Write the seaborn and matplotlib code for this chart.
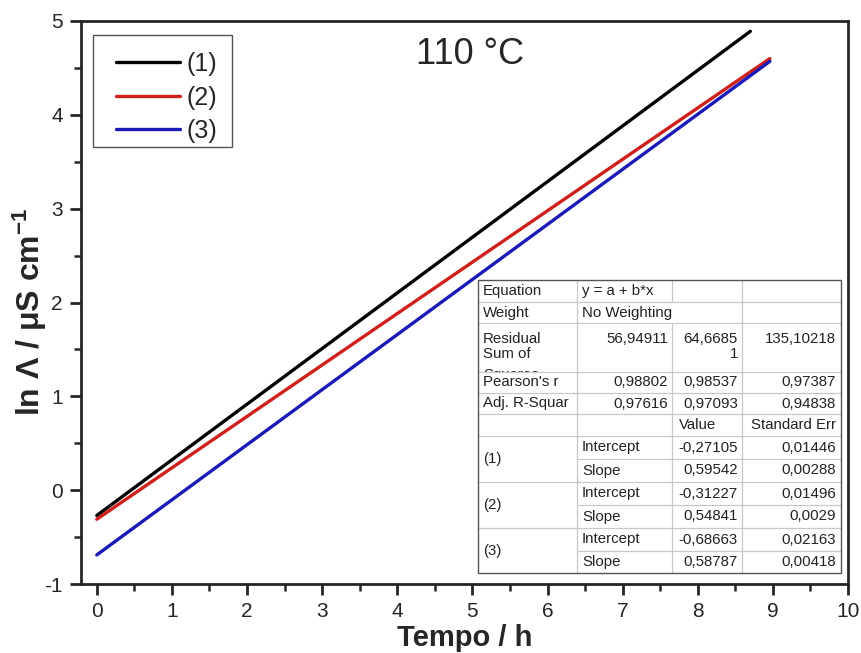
import matplotlib
matplotlib.use("Agg")
import matplotlib.pyplot as plt
import seaborn as sns
import pandas as pd
from matplotlib.ticker import MultipleLocator
from matplotlib.patches import Rectangle

# ---------------- data ----------------
series_names = ["(1)", "(2)", "(3)"]
time_1 = [0.0, 8.70]
ln_1 = [-0.27, 4.89]
time_2 = [0.0, 8.96]
ln_2 = [-0.31, 4.60]
time_3 = [0.0, 8.96]
ln_3 = [-0.69, 4.57]
series_colors = ["#000000", "#d0201c", "#1a1ab8"]

x_ticks = [0, 1, 2, 3, 4, 5, 6, 7, 8, 9, 10]
y_ticks = [-1, 0, 1, 2, 3, 4, 5]

title_text = "110 °C"
x_label = "Tempo / h"
y_label = "ln Λ / μS cm$^{-1}$"

# fit-report table contents
tbl_equation = ["Equation", "y = a + b*x"]
tbl_weight = ["Weight", "No Weighting"]
tbl_rss_label = ["Residual\nSum of", "Squares"]
tbl_rss = ["56,94911", "64,6685\n1", "135,10218"]
tbl_pearson = ["Pearson's r", "0,98802", "0,98537", "0,97387"]
tbl_adjr2 = ["Adj. R-Squar", "0,97616", "0,97093", "0,94838"]
tbl_head = ["Value", "Standard Err"]
tbl_params = ["Intercept", "Slope"]
tbl_values = [["-0,27105", "0,59542"], ["-0,31227", "0,54841"], ["-0,68663", "0,58787"]]
tbl_errors = [["0,01446", "0,00288"], ["0,01496", "0,0029"], ["0,02163", "0,00418"]]

# ---------------- style ----------------
sns.set_style("ticks")
plt.rcParams["font.family"] = ["Liberation Sans", "DejaVu Sans"]
plt.rcParams["mathtext.fontset"] = "custom"
plt.rcParams["mathtext.rm"] = "Liberation Sans"
plt.rcParams["mathtext.bf"] = "Liberation Sans:bold"
plt.rcParams["mathtext.default"] = "bf"
plt.rcParams["axes.unicode_minus"] = False

W, H = 862, 653
fig = plt.figure(figsize=(W / 100, H / 100), dpi=100)
fig.patch.set_facecolor("white")

L, R, T, B = 81, 848, 21, 584
ax = fig.add_axes([L / W, (H - B) / H, (R - L) / W, (B - T) / H])

df = pd.concat([
    pd.DataFrame({"t": time_1, "ln": ln_1, "s": series_names[0]}),
    pd.DataFrame({"t": time_2, "ln": ln_2, "s": series_names[1]}),
    pd.DataFrame({"t": time_3, "ln": ln_3, "s": series_names[2]}),
], ignore_index=True)

sns.lineplot(data=df, x="t", y="ln", hue="s", palette=series_colors,
             hue_order=series_names, linewidth=2.4, sort=False, ax=ax)

ax.set_xlim(-0.21, 10.0)
ax.set_ylim(-1, 5)
ax.set_xticks(x_ticks)
ax.set_yticks(y_ticks)
ax.xaxis.set_minor_locator(MultipleLocator(0.5))
ax.yaxis.set_minor_locator(MultipleLocator(0.5))
ax.tick_params(which="major", direction="out", length=8, width=2,
               labelsize=15, pad=5)
ax.tick_params(which="minor", direction="out", length=5, width=1.8)
for sp in ax.spines.values():
    sp.set_linewidth(2)
    sp.set_visible(True)

ax.set_xlabel(x_label, fontsize=21, fontweight="bold", labelpad=2)
ax.set_ylabel(y_label, fontsize=23, fontweight="bold")
ax.yaxis.set_label_coords((49 - L) / (R - L), (B - 312) / (B - T))

ax.text((470 - L) / (R - L), (B - 55) / (B - T), title_text,
        transform=ax.transAxes, ha="center", va="center", fontsize=26)

# overlay axes in pixel units (legend frame + fit table)
tax = fig.add_axes([0, 0, 1, 1], zorder=5)
tax.set_xlim(0, W)
tax.set_ylim(H, 0)
tax.axis("off")
tax.patch.set_alpha(0)

handles, labels = ax.get_legend_handles_labels()
leg = ax.legend(handles, labels, loc="upper left",
                bbox_to_anchor=((116 - L) / (R - L), (B - 52) / (B - T)),
                borderaxespad=0, fontsize=18, handlelength=2.56,
                handletextpad=0.28, labelspacing=0.38, borderpad=0.0,
                frameon=False)
for ln in leg.get_lines():
    ln.set_linewidth(2.4)
ax.add_patch(Rectangle((93, 35), 232 - 93, 147 - 35, transform=tax.transData,
                       facecolor="none", edgecolor="#555555", lw=1.0,
                       zorder=6, clip_on=False))

# ---------------- fit table ----------------
c = [478, 577, 672, 742, 841]
r = [280, 302, 323, 372, 393, 414, 436, 459, 482, 505, 528, 551, 573]
grid_c = "#c8c8c8"
fs = 10.8
tc = "#222222"

tax.add_patch(Rectangle((c[0], r[0]), c[4] - c[0], r[-1] - r[0],
                        facecolor="white", edgecolor="none", zorder=1))

def hline(y, x0, x1):
    tax.plot([x0, x1], [y, y], color=grid_c, lw=0.9, zorder=5)

def vline(x, y0, y1):
    tax.plot([x, x], [y0, y1], color=grid_c, lw=0.9, zorder=5)

def cell_text(x, y, s, ha="left", va="center", z=6, **kw):
    return tax.text(x, y, s, ha=ha, va=va, fontsize=fs, color=tc, zorder=z, **kw)

xl0, xl1, xr2, xl2, xr3, xr4 = 483, 582, 668, 679, 738, 836

def mid(i):
    return (r[i] + r[i + 1]) / 2

# residual row: third label line is cut by the row border, as in the source
rss_top = r[2] + 9
cell_text(xl0, rss_top, tbl_rss_label[0], va="top", linespacing=1.12)
cell_text(xl0, rss_top + 36, tbl_rss_label[1], va="top", z=2)
tax.add_patch(Rectangle((c[0], r[3]), c[1] - c[0], r[4] - r[3],
                        facecolor="white", edgecolor="none", zorder=3))
cell_text(xr2, rss_top, tbl_rss[0], ha="right", va="top")
cell_text(xr3, rss_top, tbl_rss[1], ha="right", va="top", linespacing=1.12,
          multialignment="right")
cell_text(xr4, rss_top, tbl_rss[2], ha="right", va="top")

inner_rows = (r[7], r[9], r[11])
for i in range(1, 12):
    if r[i] in inner_rows:
        hline(r[i], c[1], c[4])
    else:
        hline(r[i], c[0], c[4])
vline(c[1], r[0], r[-1])
vline(c[2], r[0], r[1])
vline(c[2], r[2], r[-1])
vline(c[3], r[0], r[-1])
tax.add_patch(Rectangle((c[0], r[0]), c[4] - c[0], r[-1] - r[0],
                        facecolor="none", edgecolor="#555555", lw=1.0, zorder=7))

cell_text(xl0, mid(0), tbl_equation[0])
cell_text(xl1, mid(0), tbl_equation[1])
cell_text(xl0, mid(1), tbl_weight[0])
cell_text(xl1, mid(1), tbl_weight[1])

for row_i, vals in ((3, tbl_pearson), (4, tbl_adjr2)):
    cell_text(xl0, mid(row_i), vals[0])
    cell_text(xr2, mid(row_i), vals[1], ha="right")
    cell_text(xr3, mid(row_i), vals[2], ha="right")
    cell_text(xr4, mid(row_i), vals[3], ha="right")

cell_text(xl2, mid(5), tbl_head[0])
cell_text(xr4, mid(5), tbl_head[1], ha="right")

for g in range(3):
    top = 6 + 2 * g
    cell_text(xl0, r[top + 1], series_names[g])
    for k in range(2):
        cell_text(xl1, mid(top + k), tbl_params[k])
        cell_text(xr3, mid(top + k), tbl_values[g][k], ha="right")
        cell_text(xr4, mid(top + k), tbl_errors[g][k], ha="right")

fig.savefig("out.png", dpi=100, facecolor="white")
